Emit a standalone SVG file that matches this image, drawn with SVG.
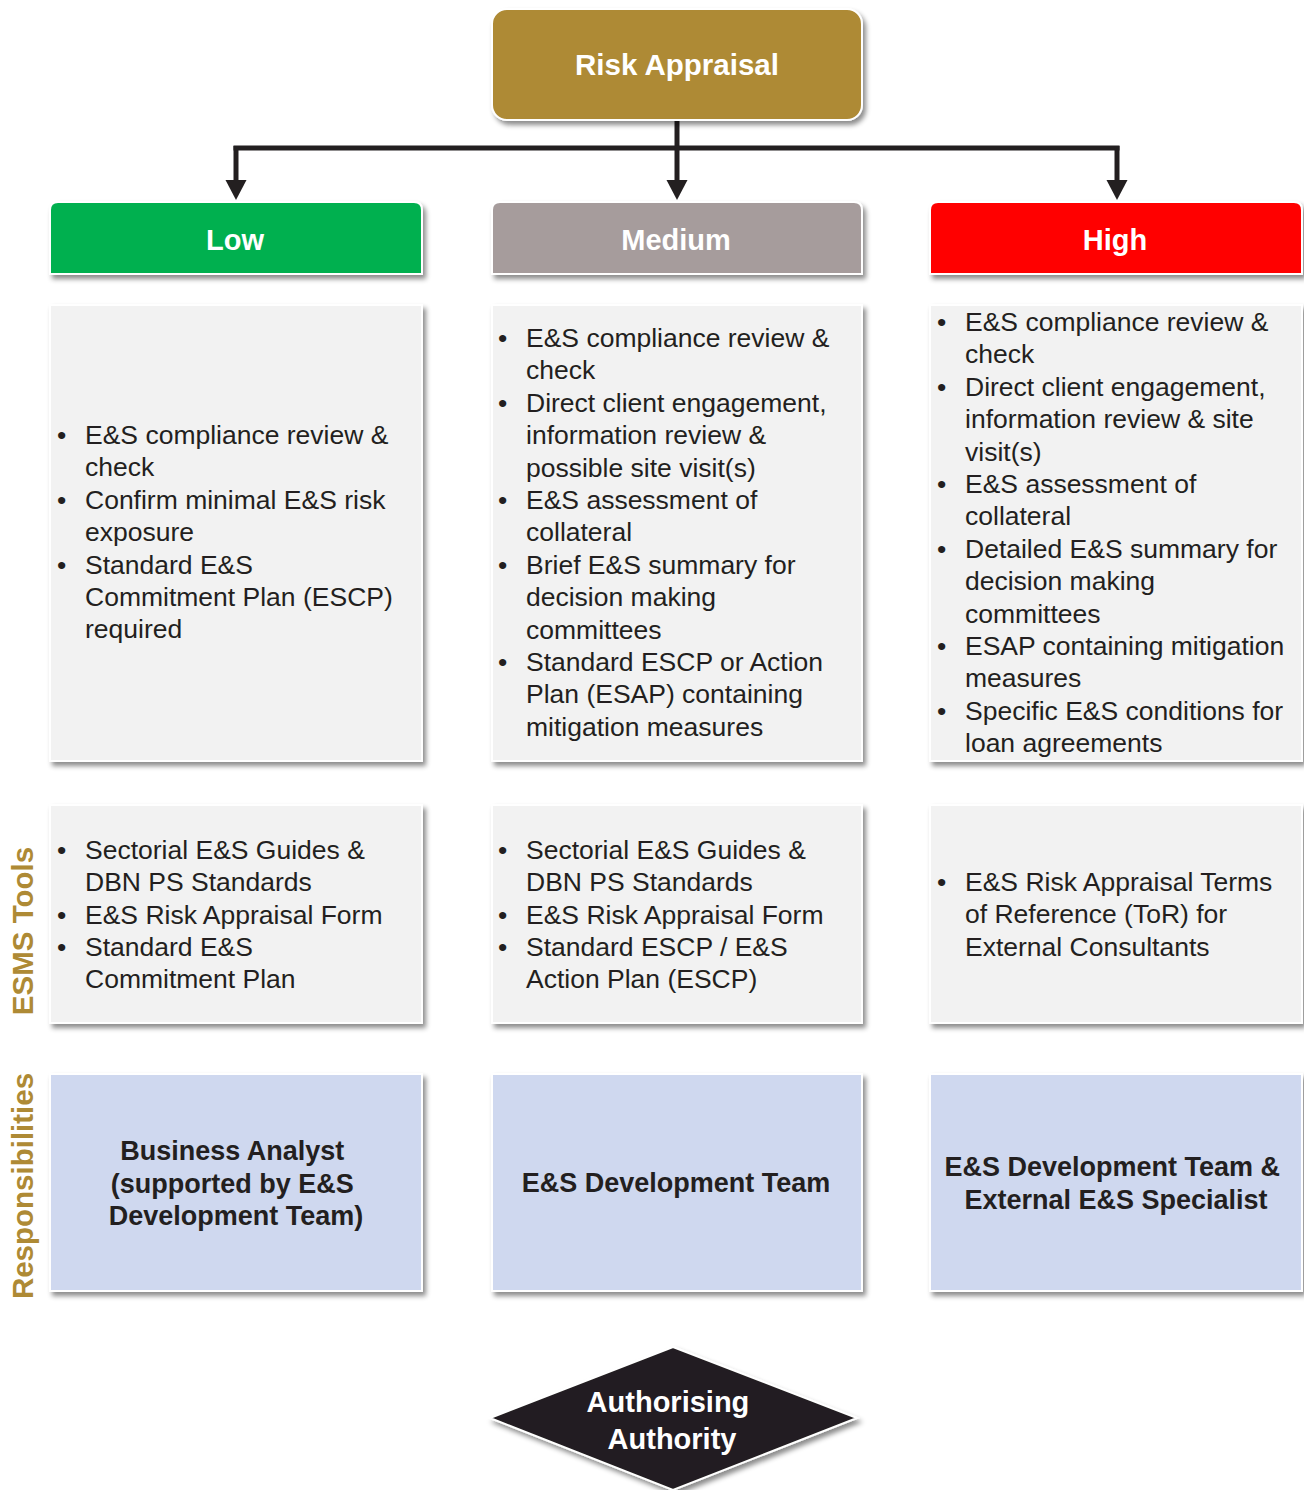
<svg xmlns="http://www.w3.org/2000/svg" width="1304" height="1490" viewBox="0 0 1304 1490">
  <style>
    .body { font-family: "Liberation Sans", Arial, sans-serif; font-size: 26.5px; fill: #231F20; }
    .bold { font-family: "Liberation Sans", Arial, sans-serif; font-weight: bold; }
    .hdr { font-size: 29px; fill: #FFFFFF; text-anchor: middle; }
    .resp { font-size: 27px; fill: #231F20; text-anchor: middle; }
    .side { font-size: 29.5px; fill: #AE8A35; text-anchor: middle; }
    .panel { fill: #F2F2F2; stroke: #FFFFFF; stroke-width: 2; filter: url(#shadow); }
    .role { fill: #CFD8EF; stroke: #FFFFFF; stroke-width: 2; filter: url(#shadow); }
    .conn { stroke: #231F20; stroke-width: 5; fill: none; }
  </style>
  <defs>
    <filter id="shadow" x="-10%" y="-10%" width="125%" height="130%">
      <feDropShadow dx="3" dy="4" stdDeviation="2.5" flood-color="#000000" flood-opacity="0.45"/>
    </filter>
    <marker id="arrow" markerWidth="5" markerHeight="5" refX="0.2" refY="2.5" orient="auto" markerUnits="strokeWidth">
      <path d="M0,0.4 L4,2.5 L0,4.6 Z" fill="#231F20"/>
    </marker>
  </defs>

  <rect width="1304" height="1490" fill="#FFFFFF"/>

  <!-- connectors -->
  <g id="connectors">
    <path class="conn" d="M677,120 V148"/>
    <path class="conn" d="M233.5,148 H1119.5"/>
    <path class="conn" d="M236,146 V181" marker-end="url(#arrow)"/>
    <path class="conn" d="M677,146 V181" marker-end="url(#arrow)"/>
    <path class="conn" d="M1117,146 V181" marker-end="url(#arrow)"/>
  </g>

  <!-- root -->
  <g id="risk-appraisal">
    <rect x="492" y="9" width="370" height="111" rx="15" fill="#AE8A35" stroke="#FFFFFF" stroke-width="2" filter="url(#shadow)"/>
    <text class="bold hdr" x="677" y="75" style="font-size:29.5px">Risk Appraisal</text>
  </g>

  <!-- risk level headers -->
  <g id="low">
    <path d="M50,274 V210 Q50,202 58,202 H414 Q422,202 422,210 V274 Z" fill="#00B050" stroke="#FFFFFF" stroke-width="2" filter="url(#shadow)"/>
    <text class="bold hdr" x="235" y="250">Low</text>
  </g>
  <g id="medium">
    <path d="M492,274 V210 Q492,202 500,202 H854 Q862,202 862,210 V274 Z" fill="#A69C9C" stroke="#FFFFFF" stroke-width="2" filter="url(#shadow)"/>
    <text class="bold hdr" x="676" y="250">Medium</text>
  </g>
  <g id="high">
    <path d="M930,274 V210 Q930,202 938,202 H1294 Q1302,202 1302,210 V274 Z" fill="#FF0000" stroke="#FFFFFF" stroke-width="2" filter="url(#shadow)"/>
    <text class="bold hdr" x="1115" y="250">High</text>
  </g>

  <!-- appraisal activities -->
  <g id="low-activities">
    <rect class="panel" x="50" y="305" width="372" height="456"/>
    <text class="body">
      <tspan x="57" y="444">•</tspan><tspan x="85" y="444">E&amp;S compliance review &amp;</tspan>
      <tspan x="85" y="476.4">check</tspan>
      <tspan x="57" y="508.8">•</tspan><tspan x="85" y="508.8">Confirm minimal E&amp;S risk</tspan>
      <tspan x="85" y="541.2">exposure</tspan>
      <tspan x="57" y="573.6">•</tspan><tspan x="85" y="573.6">Standard E&amp;S</tspan>
      <tspan x="85" y="606">Commitment Plan (ESCP)</tspan>
      <tspan x="85" y="638.4">required</tspan>
    </text>
  </g>
  <g id="medium-activities">
    <rect class="panel" x="492" y="305" width="370" height="456"/>
    <text class="body">
      <tspan x="498" y="347">•</tspan><tspan x="526" y="347">E&amp;S compliance review &amp;</tspan>
      <tspan x="526" y="379.4">check</tspan>
      <tspan x="498" y="411.8">•</tspan><tspan x="526" y="411.8">Direct client engagement,</tspan>
      <tspan x="526" y="444.2">information review &amp;</tspan>
      <tspan x="526" y="476.6">possible site visit(s)</tspan>
      <tspan x="498" y="509">•</tspan><tspan x="526" y="509">E&amp;S assessment of</tspan>
      <tspan x="526" y="541.4">collateral</tspan>
      <tspan x="498" y="573.8">•</tspan><tspan x="526" y="573.8">Brief E&amp;S summary for</tspan>
      <tspan x="526" y="606.2">decision making</tspan>
      <tspan x="526" y="638.6">committees</tspan>
      <tspan x="498" y="671">•</tspan><tspan x="526" y="671">Standard ESCP or Action</tspan>
      <tspan x="526" y="703.4">Plan (ESAP) containing</tspan>
      <tspan x="526" y="735.8">mitigation measures</tspan>
    </text>
  </g>
  <g id="high-activities">
    <rect class="panel" x="930" y="305" width="372" height="456"/>
    <text class="body">
      <tspan x="937" y="331">•</tspan><tspan x="965" y="331">E&amp;S compliance review &amp;</tspan>
      <tspan x="965" y="363.4">check</tspan>
      <tspan x="937" y="395.8">•</tspan><tspan x="965" y="395.8">Direct client engagement,</tspan>
      <tspan x="965" y="428.2">information review &amp; site</tspan>
      <tspan x="965" y="460.6">visit(s)</tspan>
      <tspan x="937" y="493">•</tspan><tspan x="965" y="493">E&amp;S assessment of</tspan>
      <tspan x="965" y="525.4">collateral</tspan>
      <tspan x="937" y="557.8">•</tspan><tspan x="965" y="557.8">Detailed E&amp;S summary for</tspan>
      <tspan x="965" y="590.2">decision making</tspan>
      <tspan x="965" y="622.6">committees</tspan>
      <tspan x="937" y="655">•</tspan><tspan x="965" y="655">ESAP containing mitigation</tspan>
      <tspan x="965" y="687.4">measures</tspan>
      <tspan x="937" y="719.8">•</tspan><tspan x="965" y="719.8">Specific E&amp;S conditions for</tspan>
      <tspan x="965" y="752.2">loan agreements</tspan>
    </text>
  </g>

  <!-- row labels -->
  <text class="bold side" transform="translate(33,931) rotate(-90)">ESMS Tools</text>
  <text class="bold side" transform="translate(33,1186) rotate(-90)">Responsibilities</text>

  <!-- ESMS tools -->
  <g id="low-tools">
    <rect class="panel" x="50" y="805" width="372" height="218"/>
    <text class="body">
      <tspan x="57" y="859">•</tspan><tspan x="85" y="859">Sectorial E&amp;S Guides &amp;</tspan>
      <tspan x="85" y="891.3">DBN PS Standards</tspan>
      <tspan x="57" y="923.6">•</tspan><tspan x="85" y="923.6">E&amp;S Risk Appraisal Form</tspan>
      <tspan x="57" y="955.9">•</tspan><tspan x="85" y="955.9">Standard E&amp;S</tspan>
      <tspan x="85" y="988.2">Commitment Plan</tspan>
    </text>
  </g>
  <g id="medium-tools">
    <rect class="panel" x="492" y="805" width="370" height="218"/>
    <text class="body">
      <tspan x="498" y="859">•</tspan><tspan x="526" y="859">Sectorial E&amp;S Guides &amp;</tspan>
      <tspan x="526" y="891.3">DBN PS Standards</tspan>
      <tspan x="498" y="923.6">•</tspan><tspan x="526" y="923.6">E&amp;S Risk Appraisal Form</tspan>
      <tspan x="498" y="955.9">•</tspan><tspan x="526" y="955.9">Standard ESCP / E&amp;S</tspan>
      <tspan x="526" y="988.2">Action Plan (ESCP)</tspan>
    </text>
  </g>
  <g id="high-tools">
    <rect class="panel" x="930" y="805" width="372" height="218"/>
    <text class="body">
      <tspan x="937" y="891">•</tspan><tspan x="965" y="891">E&amp;S Risk Appraisal Terms</tspan>
      <tspan x="965" y="923.4">of Reference (ToR) for</tspan>
      <tspan x="965" y="955.8">External Consultants</tspan>
    </text>
  </g>

  <!-- responsibilities -->
  <g id="low-responsibility">
    <rect class="role" x="50" y="1074" width="372" height="217"/>
    <text class="bold resp">
      <tspan x="236" y="1160">Business Analyst</tspan>
      <tspan x="236" y="1192.5">(supported by E&amp;S</tspan>
      <tspan x="236" y="1225">Development Team)</tspan>
    </text>
  </g>
  <g id="medium-responsibility">
    <rect class="role" x="492" y="1074" width="370" height="217"/>
    <text class="bold resp" x="676" y="1192">E&amp;S Development Team</text>
  </g>
  <g id="high-responsibility">
    <rect class="role" x="930" y="1074" width="372" height="217"/>
    <text class="bold resp">
      <tspan x="1116" y="1176">E&amp;S Development Team &amp;</tspan>
      <tspan x="1116" y="1209">External E&amp;S Specialist</tspan>
    </text>
  </g>

  <!-- approval -->
  <g id="authorising-authority">
    <path d="M673,1347 L857,1418 L673,1490 L490,1418 Z" fill="#231F20" stroke="#FFFFFF" stroke-width="2" filter="url(#shadow)"/>
    <text class="bold hdr">
      <tspan x="672" y="1412">Authorising</tspan>
      <tspan x="672" y="1449">Authority</tspan>
    </text>
  </g>
</svg>
